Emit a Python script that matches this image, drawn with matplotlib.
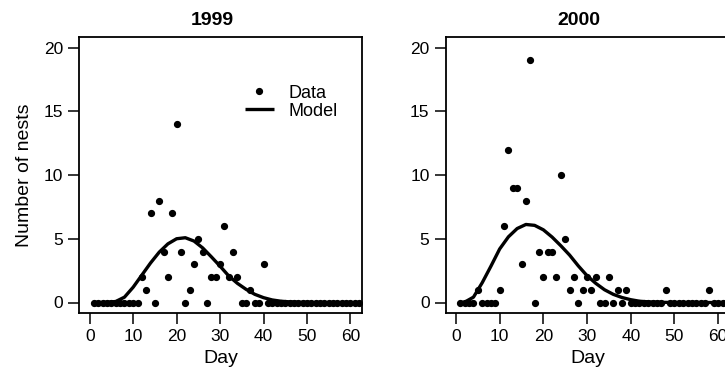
import matplotlib
matplotlib.use("Agg")
import matplotlib.pyplot as plt

plt.rcParams['font.family'] = ['Liberation Sans', 'DejaVu Sans']

days = list(range(1, 63))

nests_1999 = [0, 0, 0, 0, 0, 0, 0, 0, 0, 0, 0,      # 1-11
              2, 1, 7, 0, 8, 4, 2, 7, 14,           # 12-20
              4, 0, 1, 3, 5, 4, 0, 2, 2, 3,         # 21-30
              6, 2, 4, 2, 0, 0, 1, 0, 0, 3,         # 31-40
              0, 0, 0, 0, 0, 0, 0, 0, 0, 0,         # 41-50
              0, 0, 0, 0, 0, 0, 0, 0, 0, 0, 0, 0]   # 51-62

nests_2000 = [0, 0, 0, 0, 1, 0, 0, 0, 0, 1,         # 1-10
              6, 12, 9, 9, 3, 8, 19, 0, 4, 2,       # 11-20
              4, 4, 2, 10, 5, 1, 2, 0, 1, 2,        # 21-30
              1, 2, 0, 0, 2, 0, 1, 0, 1, 0,         # 31-40
              0, 0, 0, 0, 0, 0, 0, 1, 0, 0,         # 41-50
              0, 0, 0, 0, 0, 0, 0, 1, 0, 0, 0, 0]   # 51-62

model_days = [1, 2, 4, 6, 8, 10, 12, 14, 16, 18, 20, 22, 24, 26, 28, 30,
              32, 34, 36, 38, 40, 42, 44, 46, 48, 50, 52, 54, 56, 58, 60, 62]

model_1999 = [0.0, 0.0, 0.01, 0.08, 0.42, 1.2, 2.15, 3.1, 3.95, 4.6, 5.0, 5.08,
              4.82, 4.28, 3.58, 2.85, 2.08, 1.5, 1.03, 0.64, 0.38, 0.2, 0.1,
              0.05, 0.02, 0.01, 0.0, 0.0, 0.0, 0.0, 0.0, 0.0]

model_2000 = [0.0, 0.03, 0.42, 1.55, 2.85, 4.2, 5.15, 5.8, 6.12, 6.05, 5.7, 5.13,
              4.45, 3.72, 2.87, 2.1, 1.5, 1.0, 0.64, 0.39, 0.22, 0.1, 0.05,
              0.02, 0.01, 0.0, 0.0, 0.0, 0.0, 0.0, 0.0, 0.0]

titles = ["1999", "2000"]
x_ticks = [0, 10, 20, 30, 40, 50, 60]
y_ticks = [0, 5, 10, 15, 20]

W, H = 725, 380
fig = plt.figure(figsize=(W / 100, H / 100), dpi=100)

ax1 = fig.add_axes([79.3 / W, 1 - 312.7 / H, 282.4 / W, 275.4 / H])
ax2 = fig.add_axes([445.5 / W, 1 - 312.7 / H, 284.0 / W, 275.4 / H])

panels = [(ax1, nests_1999, model_1999, titles[0]),
          (ax2, nests_2000, model_2000, titles[1])]

for ax, obs, mod, title in panels:
    ax.plot(model_days, mod, color='black', lw=2.4, solid_capstyle='butt',
            solid_joinstyle='round', label='Model', zorder=2)
    ax.plot(days, obs, 'o', color='black', ms=4.2, mec='black',
            label='Data', zorder=3)
    ax.set_xlim(-2.4, 62.6)
    ax.set_ylim(-0.8, 20.8)
    ax.set_xticks(x_ticks)
    ax.set_yticks(y_ticks)
    ax.tick_params(axis='both', direction='out', length=8, width=1.1,
                   labelsize=12.5, color='black')
    ax.tick_params(axis='y', pad=3.5)
    ax.tick_params(axis='x', pad=4)
    for sp in ax.spines.values():
        sp.set_linewidth(1.3)
    ax.set_xlabel("Day", fontsize=14, labelpad=4)
    ax.set_title(title, fontsize=14, fontweight='bold', pad=9, x=0.47)

ax1.set_ylabel("Number of nests", fontsize=14, labelpad=8)

h, l = ax1.get_legend_handles_labels()
ax1.legend([h[1], h[0]], [l[1], l[0]], loc='upper left',
           bbox_to_anchor=(0.585, 0.828), frameon=False, fontsize=13,
           handlelength=1.66, handletextpad=0.75, labelspacing=0.05,
           borderpad=0, borderaxespad=0)

fig.savefig("out.png", dpi=100)
